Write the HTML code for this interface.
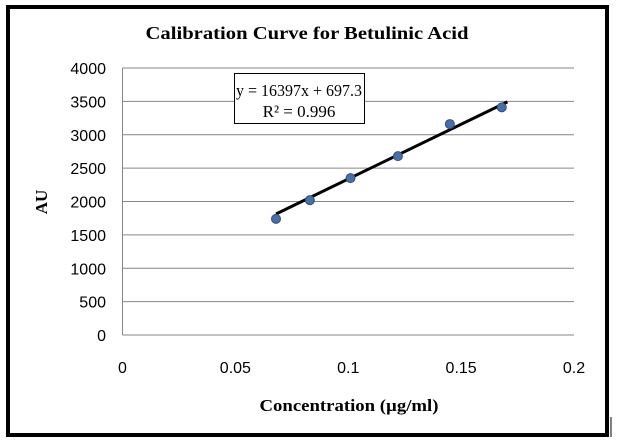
<!DOCTYPE html>
<html><head><meta charset="utf-8"><style>
html,body{margin:0;padding:0;background:#fff;width:617px;height:445px;overflow:hidden}
svg{display:block}
</style></head><body>
<svg id="chart" width="617" height="445" xmlns="http://www.w3.org/2000/svg">
<rect x="8" y="7" width="599" height="428" fill="#fff" stroke="#000" stroke-width="4"/>
<line x1="611" y1="417" x2="611" y2="437" stroke="#000" stroke-width="1"/>
<text x="307" y="39" text-anchor="middle" font-family="Liberation Serif, serif" font-weight="bold" font-size="18" textLength="323" lengthAdjust="spacingAndGlyphs">Calibration Curve for Betulinic Acid</text>
<g id="grid"></g><g id="yticks"></g><g id="xticks"></g>
<line x1="122.5" y1="68" x2="122.5" y2="335" stroke="#868686" stroke-width="1"/>
<g id="trend"></g><g id="points"></g>
<rect x="234.5" y="73.5" width="130" height="50" fill="#fff" stroke="#000" stroke-width="1"/>
<text x="299" y="96" text-anchor="middle" font-family="Liberation Serif, serif" font-size="17" textLength="126" lengthAdjust="spacingAndGlyphs">y = 16397x + 697.3</text>
<text x="299" y="117" text-anchor="middle" font-family="Liberation Serif, serif" font-size="17">R² = 0.996</text>
<text x="349" y="411" text-anchor="middle" font-family="Liberation Serif, serif" font-weight="bold" font-size="17" textLength="179" lengthAdjust="spacingAndGlyphs">Concentration (µg/ml)</text>
<text transform="translate(47,202) rotate(-90)" text-anchor="middle" font-family="Liberation Serif, serif" font-weight="bold" font-size="17">AU</text>
</svg>
<script>
const xValues=[0.068,0.083,0.101,0.122,0.145,0.168];
const yValues=[1740,2020,2350,2680,3160,3410];
const yTicks=[0,500,1000,1500,2000,2500,3000,3500,4000];
const xTicks=[0,0.05,0.1,0.15,0.2];
const xTickLabels=["0","0.05","0.1","0.15","0.2"];
const slope=16397, intercept=697.3;
const trendRange=[0.068,0.1705];
const NS="http://www.w3.org/2000/svg";
const X=v=>122.5+v/0.2*451.5;
const Y=v=>335-v/4000*267;
function mk(t,a,p){const e=document.createElementNS(NS,t);for(const k in a)e.setAttribute(k,a[k]);document.getElementById(p).appendChild(e);return e;}
yTicks.forEach(t=>{
 const l=mk('line',{x1:122.5,x2:574,y1:Y(t),y2:Y(t),stroke:'#868686','stroke-width':1},'grid');
 
 
 const tx=mk('text',{x:106,y:Y(t)+6,'text-anchor':'end','font-family':'Liberation Sans, sans-serif','font-size':16,fill:'#000'},'yticks');
 tx.textContent=t;
 
 
});
xTicks.forEach((t,i)=>{
 const tx=mk('text',{x:X(t),y:373,'text-anchor':'middle','font-family':'Liberation Sans, sans-serif','font-size':16,fill:'#000'},'xticks');
 tx.textContent=xTickLabels[i];
 
 
});
const tl=mk('line',{x1:X(trendRange[0]),y1:Y(slope*trendRange[0]+intercept),x2:X(trendRange[1]),y2:Y(slope*trendRange[1]+intercept),stroke:'#000','stroke-width':3},'trend');


xValues.forEach((v,i)=>{
 const c=mk('circle',{cx:X(v),cy:Y(yValues[i]),r:4.5,fill:'#4a6fa5',stroke:'#2f4f80','stroke-width':1},'points');
 
 
});
</script>
</body></html>
